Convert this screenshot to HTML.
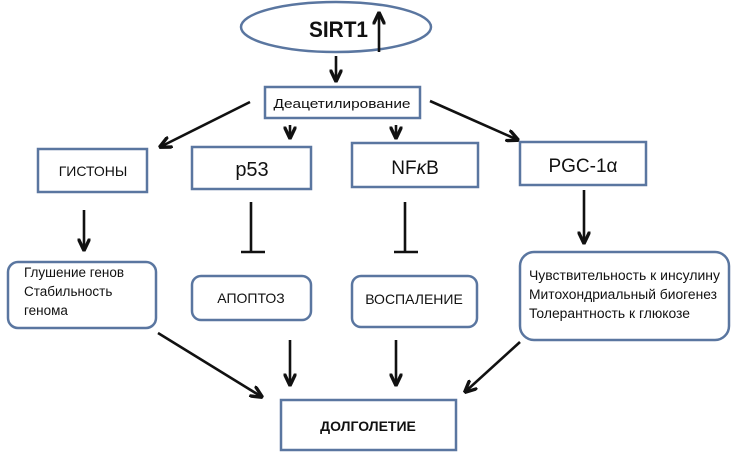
<!DOCTYPE html>
<html><head><meta charset="utf-8"><style>
html,body{margin:0;padding:0;background:#fff;}
svg{display:block;}
text{font-family:"Liberation Sans","DejaVu Sans",sans-serif;fill:#111;}
</style></head><body>
<svg width="735" height="457" viewBox="0 0 735 457" xmlns="http://www.w3.org/2000/svg">
<defs>
<marker id="a" viewBox="0 0 10 10" refX="9" refY="5" markerWidth="5" markerHeight="5" orient="auto-start-reverse">
<path d="M0,0.5 L9.5,5 L0,9.5" fill="none" stroke="#111" stroke-width="2.6"/>
</marker>
</defs>
<g fill="#fff" stroke="#5a76a0" stroke-width="2.5">
<ellipse cx="336" cy="27" rx="95" ry="25"/>
<rect x="265" y="87" width="155" height="31"/>
<rect x="38" y="149" width="109" height="43"/>
<rect x="192" y="147" width="119" height="42"/>
<rect x="352" y="143" width="126" height="44"/>
<rect x="520" y="142" width="126" height="43"/>
<rect x="8" y="262" width="148" height="66" rx="10"/>
<rect x="192" y="276" width="119" height="44" rx="9"/>
<rect x="352" y="276" width="125" height="51" rx="9"/>
<rect x="520" y="252" width="209" height="88" rx="14"/>
<rect x="281" y="400" width="175" height="50"/>
</g>
<g stroke="#111" stroke-width="2.6" fill="none" marker-end="url(#a)">
<line x1="379" y1="52" x2="379" y2="13"/>
<line x1="336" y1="56" x2="336" y2="81"/>
<line x1="250" y1="102" x2="160" y2="147"/>
<line x1="290" y1="125" x2="290" y2="138"/>
<line x1="396" y1="125" x2="396" y2="138"/>
<line x1="430" y1="101" x2="518" y2="140"/>
<line x1="84" y1="210" x2="84" y2="250"/>
<line x1="584" y1="190" x2="584" y2="243"/>
<line x1="158" y1="333" x2="262" y2="397"/>
<line x1="290" y1="340" x2="290" y2="385"/>
<line x1="396" y1="340" x2="396" y2="385"/>
<line x1="520" y1="342" x2="465" y2="392"/>
</g>
<g stroke="#111" stroke-width="2.6">
<line x1="251" y1="202" x2="251" y2="252"/><line x1="241" y1="252" x2="265" y2="252"/>
<line x1="405" y1="202" x2="405" y2="252"/><line x1="394" y1="252" x2="418" y2="252"/>
</g>
<text x="309" y="37" font-size="22" font-weight="bold" textLength="59" lengthAdjust="spacingAndGlyphs">SIRT1</text>
<text x="342" y="108" font-size="13" text-anchor="middle" textLength="137" lengthAdjust="spacingAndGlyphs">Деацетилирование</text>
<text x="93" y="176" font-size="14" text-anchor="middle">ГИСТОНЫ</text>
<text x="252" y="176" font-size="20" text-anchor="middle">p53</text>
<text x="415" y="174" font-size="19" text-anchor="middle">NF<tspan font-style="italic">κ</tspan>B</text>
<text x="583" y="172" font-size="19" text-anchor="middle">PGC-1α</text>
<text x="24" y="277" font-size="13.5">Глушение генов</text>
<text x="24" y="296" font-size="13.5">Стабильность</text>
<text x="24" y="315" font-size="13.5">генома</text>
<text x="251" y="303" font-size="14" text-anchor="middle">АПОПТОЗ</text>
<text x="414" y="304" font-size="14" text-anchor="middle">ВОСПАЛЕНИЕ</text>
<text x="529" y="280" font-size="13.5" textLength="191" lengthAdjust="spacingAndGlyphs">Чувствительность к инсулину</text>
<text x="529" y="299" font-size="13.5" textLength="188" lengthAdjust="spacingAndGlyphs">Митохондриальный биогенез</text>
<text x="529" y="318" font-size="13.5" textLength="161" lengthAdjust="spacingAndGlyphs">Толерантность к глюкозе</text>
<text x="368" y="431" font-size="14" font-weight="bold" text-anchor="middle">ДОЛГОЛЕТИЕ</text>
</svg>
</body></html>
